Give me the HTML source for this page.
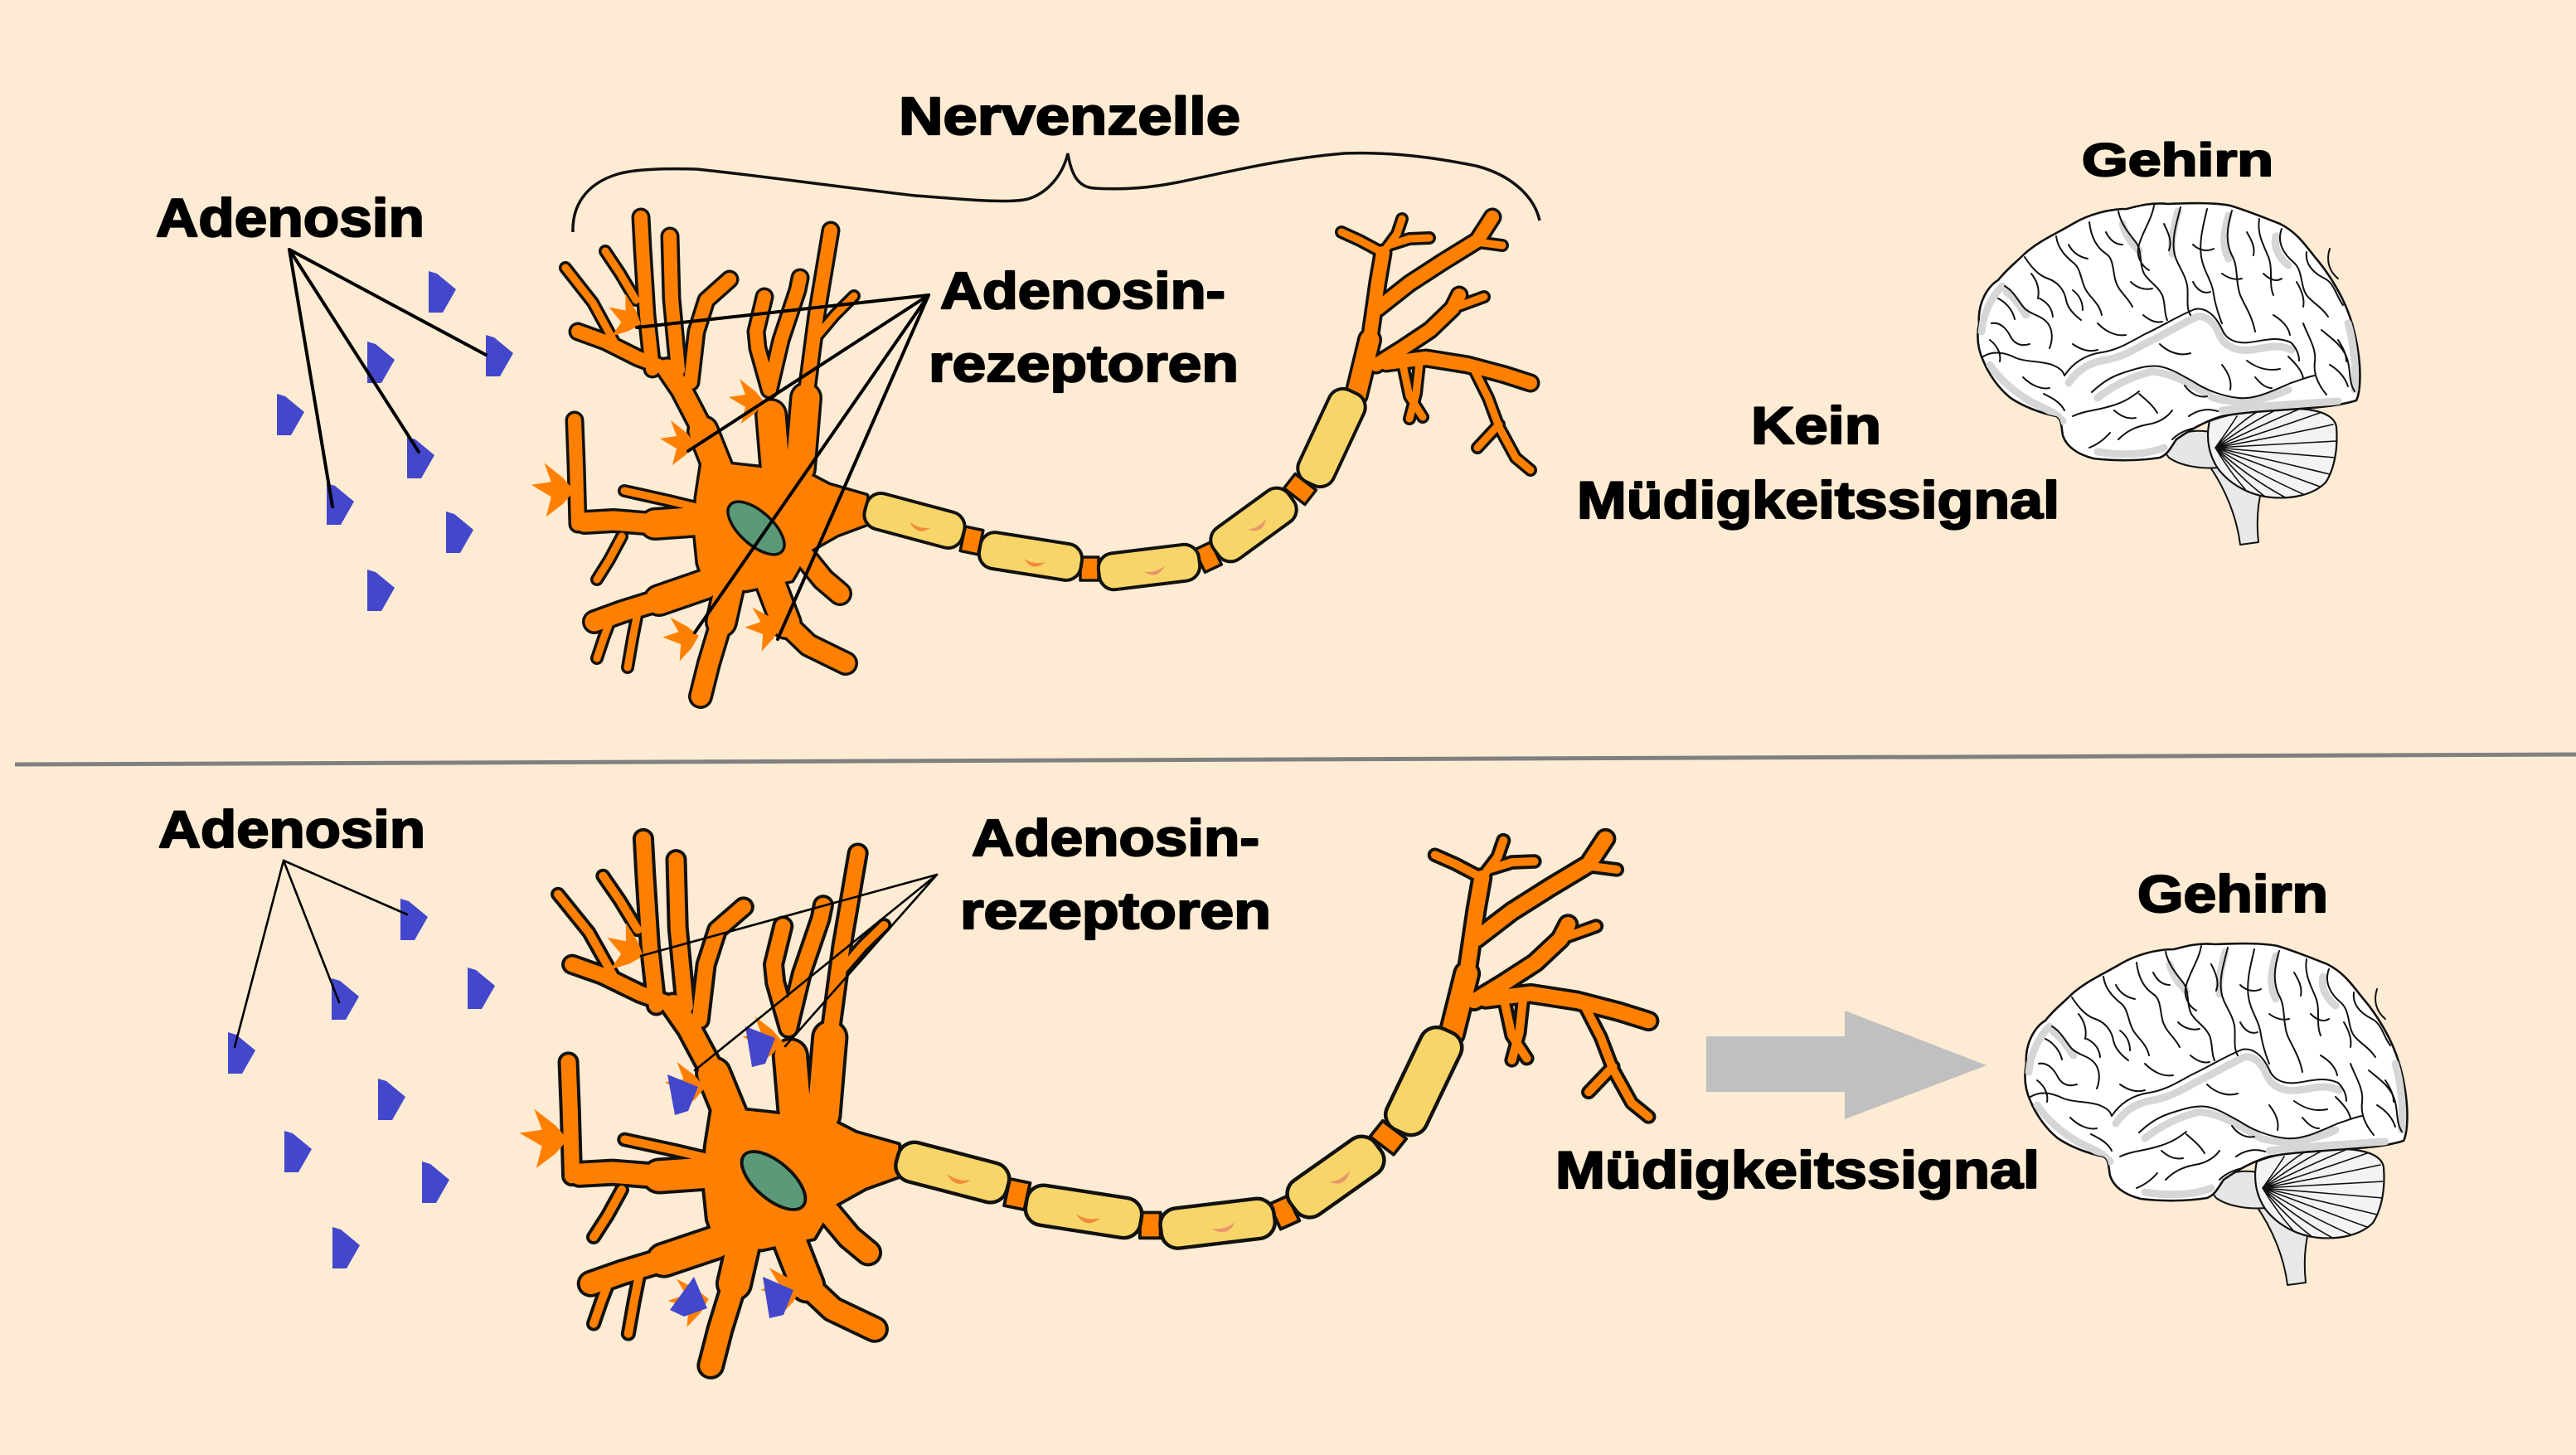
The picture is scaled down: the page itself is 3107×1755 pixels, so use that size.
<!DOCTYPE html>
<html><head><meta charset="utf-8">
<style>html,body{margin:0;padding:0;background:#FDEBD3;}svg{display:block}
text{font-family:"Liberation Sans",Arial,sans-serif;font-weight:700;fill:#000;stroke:#000;stroke-width:2.2;stroke-linejoin:round}</style>
</head><body>
<svg width="3107" height="1755" viewBox="0 0 3107 1755" xmlns="http://www.w3.org/2000/svg">
<defs>
 <path id="mol" d="M0,0 L10,3 L33,22 L17,50 L0,50 Z" fill="#4347CC"/>
 <path id="rs" d="M-26,-6 L-6,-9 L-13,-28 L6,-13 L17,0 L6,13 L-11,26 L-6,6 Z" fill="#FF8000"/>
 <path id="cres" d="M-13,0 Q0,15 13,0 Q0,6 -13,0 Z"/>
 <g id="neuron" stroke-linecap="round" stroke-linejoin="round" fill="none">
  <g stroke="#111">
   <path stroke-width="40" d="M870,575 L848,520 M847,628 L790,632 M935,560 L930,500 M965,565 L972,480 M880,705 L870,750 M930,705 L948,752 M850,705 L795,724"/>
   <path stroke-width="30" d="M848,520 L822,470 L805,445 M790,632 L740,628 L705,630 M870,750 L855,800 L845,840 M948,752 L975,778 L1020,800 M795,724 L750,738 L717,750 M967,667 L993,699 L1013,716 M1636,476 L1652,410"/>
   <path stroke-width="23" d="M805,445 L770,432 L730,412 L697,400 M787,445 L780,380 L775,300 L773,262 M818,446 L810,360 L808,285 M833,461 L840,400 L852,362 L880,337 M928,470 L942,410 L962,350 L965,335 M928,470 L914,420 L912,400 L922,358 M972,480 L985,380 L1002,278 M697,632 L695,560 L693,507 M1652,410 L1662,340 L1668,305 M1662,372 L1700,342 L1740,316 L1782,290 L1800,262 M1660,440 L1692,420 L1725,398 L1752,372 L1760,356 M1672,438 L1720,432 L1770,440 L1815,452 L1846,462"/>
   <path stroke-width="16" d="M745,420 L715,365 L682,323 M767,362 L748,330 L730,303 M980,412 L1007,380 L1030,357 M840,612 L807,604 L753,592 M750,647 L735,675 L720,699 M770,734 L763,770 L757,805 M737,746 L728,770 L720,794 M1668,305 L1640,290 L1618,280 M1668,305 L1685,282 L1691,264 M1678,295 L1700,288 L1724,287 M1782,292 L1812,296 M1752,372 L1790,358 M1776,442 L1795,480 L1808,515 L1828,552 L1846,567 M1808,512 L1782,540 M1692,440 L1700,478 L1716,503 M1712,438 L1708,475 L1700,505"/>
   <path fill="#111" stroke-width="7" d="M848,548 L880,560 L925,565 L962,565 L1000,585 L1045,598 L1045,632 L1010,645 L975,665 L955,700 L900,712 L852,710 L842,680 L838,640 L840,600 Z"/>
  </g>
  <g stroke="#FF8000">
   <path stroke-width="33" d="M870,575 L848,520 M847,628 L790,632 M935,560 L930,500 M965,565 L972,480 M880,705 L870,750 M930,705 L948,752 M850,705 L795,724"/>
   <path stroke-width="23" d="M848,520 L822,470 L805,445 M790,632 L740,628 L705,630 M870,750 L855,800 L845,840 M948,752 L975,778 L1020,800 M795,724 L750,738 L717,750 M967,667 L993,699 L1013,716 M1636,476 L1652,410"/>
   <path stroke-width="16" d="M805,445 L770,432 L730,412 L697,400 M787,445 L780,380 L775,300 L773,262 M818,446 L810,360 L808,285 M833,461 L840,400 L852,362 L880,337 M928,470 L942,410 L962,350 L965,335 M928,470 L914,420 L912,400 L922,358 M972,480 L985,380 L1002,278 M697,632 L695,560 L693,507 M1652,410 L1662,340 L1668,305 M1662,372 L1700,342 L1740,316 L1782,290 L1800,262 M1660,440 L1692,420 L1725,398 L1752,372 L1760,356 M1672,438 L1720,432 L1770,440 L1815,452 L1846,462"/>
   <path stroke-width="9" d="M745,420 L715,365 L682,323 M767,362 L748,330 L730,303 M980,412 L1007,380 L1030,357 M840,612 L807,604 L753,592 M750,647 L735,675 L720,699 M770,734 L763,770 L757,805 M737,746 L728,770 L720,794 M1668,305 L1640,290 L1618,280 M1668,305 L1685,282 L1691,264 M1678,295 L1700,288 L1724,287 M1782,292 L1812,296 M1752,372 L1790,358 M1776,442 L1795,480 L1808,515 L1828,552 L1846,567 M1808,512 L1782,540 M1692,440 L1700,478 L1716,503 M1712,438 L1708,475 L1700,505"/>
   <path fill="#FF8000" stroke="none" d="M848,548 L880,560 L925,565 L962,565 L1000,585 L1045,598 L1045,632 L1010,645 L975,665 L955,700 L900,712 L852,710 L842,680 L838,640 L840,600 Z"/>
  </g>
  <use href="#rs" transform="translate(757,385) rotate(20)"/>
  <use href="#rs" transform="translate(822,535)"/>
  <use href="#rs" transform="translate(905,485)"/>
  <use href="#rs" transform="translate(672,592) scale(1.2)"/>
  <use href="#rs" transform="translate(826,770) rotate(-10)"/>
  <use href="#rs" transform="translate(925,758) rotate(-10)"/>
  <ellipse cx="912" cy="637" rx="42" ry="20" transform="rotate(42 912 637)" fill="#5A9A78" stroke="#111" stroke-width="3.5"/>
  <g fill="#FF8000" stroke="#111" stroke-width="3.5">
   <rect x="-11" y="-15" width="22" height="30" transform="translate(1172,652) rotate(12)"/>
   <rect x="-11" y="-14" width="22" height="28" transform="translate(1314,686)"/>
   <rect x="-11" y="-15" width="22" height="30" transform="translate(1457,672) rotate(-25)"/>
   <rect x="-11" y="-16" width="22" height="32" transform="translate(1568,590) rotate(-52)"/>
  </g>
  <g fill="#F7D568" stroke="#111" stroke-width="4">
   <rect x="-61" y="-22" width="122" height="44" rx="18" transform="translate(1103,628) rotate(15)"/>
   <rect x="-62" y="-22" width="124" height="44" rx="18" transform="translate(1243,671) rotate(9)"/>
   <rect x="-61" y="-22" width="122" height="44" rx="18" transform="translate(1386,684) rotate(-7)"/>
   <rect x="-56" y="-23" width="112" height="46" rx="18" transform="translate(1512,633) rotate(-36)"/>
   <rect x="-61" y="-23" width="122" height="46" rx="18" transform="translate(1606,528) rotate(-65)"/>
  </g>
  <use href="#cres" fill="#F28A3A" transform="translate(1110,633) rotate(15)"/>
  <use href="#cres" fill="#F28A3A" transform="translate(1248,676) rotate(9)"/>
  <use href="#cres" fill="#E8966E" transform="translate(1392,686) rotate(-15)"/>
  <use href="#cres" fill="#E8966E" transform="translate(1516,632) rotate(-30)"/>
 </g>

 <clipPath id="cc"><path d="M7,150 C5,125 18,105 30,98 C40,85 50,78 62,66 C80,50 100,42 120,30 C140,18 165,12 185,12 C200,8 215,4 235,6 C260,5 290,4 310,8 C330,14 350,22 370,30 C390,40 400,55 412,70 C425,85 435,100 445,120 C455,140 462,165 465,190 C468,215 466,235 462,243 C440,250 410,252 380,254 C350,256 320,258 300,262 C280,268 262,278 245,290 C238,300 235,308 225,312 C200,316 170,316 145,313 C125,308 112,298 108,285 C106,275 107,265 100,262 C80,258 60,250 45,240 C30,228 18,210 12,195 C5,180 4,165 7,150 Z"/></clipPath>
 <clipPath id="cb"><path d="M285,268 C310,258 350,252 390,253 C420,254 436,262 438,275 C440,300 436,325 425,342 C410,357 385,362 360,360 C335,358 310,345 295,325 C285,310 280,290 285,268 Z"/></clipPath>
 <g id="brain" stroke-linecap="round" stroke-linejoin="round">
  <path d="M282,318 L300,320 C318,335 340,345 348,350 C342,372 342,395 344,414 L322,417 C318,385 305,350 282,318 Z" fill="#e8e8e8" stroke="#111" stroke-width="2"/>
  <path d="M230,292 C248,280 275,276 296,284 C304,298 304,314 296,324 C275,326 250,322 236,312 C230,305 228,298 230,292 Z" fill="#e6e6e6" stroke="#111" stroke-width="2"/>
  <path d="M285,268 C310,258 350,252 390,253 C420,254 436,262 438,275 C440,300 436,325 425,342 C410,357 385,362 360,360 C335,358 310,345 295,325 C285,310 280,290 285,268 Z" fill="#f3f3f3" stroke="#111" stroke-width="2.2"/>
  <g clip-path="url(#cb)" fill="none" stroke="#111" stroke-width="1.6">
   <path d="M292,300 Q310,275 318,262 M292,300 Q320,270 342,257 M292,300 Q330,272 366,254 M292,300 Q340,276 392,254 M292,300 Q350,282 418,258 M292,300 Q360,288 434,272 M292,300 Q365,296 438,292 M292,300 Q365,306 437,312 M292,300 Q360,315 430,332 M292,300 Q350,322 418,347 M292,300 Q340,330 400,357 M292,300 Q330,335 378,361 M292,300 Q320,335 352,359 M292,300 Q310,330 328,350"/>
  </g>
  <path d="M7,150 C5,125 18,105 30,98 C40,85 50,78 62,66 C80,50 100,42 120,30 C140,18 165,12 185,12 C200,8 215,4 235,6 C260,5 290,4 310,8 C330,14 350,22 370,30 C390,40 400,55 412,70 C425,85 435,100 445,120 C455,140 462,165 465,190 C468,215 466,235 462,243 C440,250 410,252 380,254 C350,256 320,258 300,262 C280,268 262,278 245,290 C238,300 235,308 225,312 C200,316 170,316 145,313 C125,308 112,298 108,285 C106,275 107,265 100,262 C80,258 60,250 45,240 C30,228 18,210 12,195 C5,180 4,165 7,150 Z" fill="#fff" stroke="#111" stroke-width="2.6"/>
  <g clip-path="url(#cc)" fill="none" stroke="#d6d6d6" stroke-width="9">
   <path d="M115,222 C125,207 140,197 160,194 C180,191 195,181 212,172 C230,164 250,151 270,142 C282,140 292,150 298,166 C304,178 318,184 335,182 C352,180 367,174 384,182"/>
   <path d="M20,200 C30,215 45,230 70,245 C85,252 100,258 108,268"/>
   <path d="M300,255 C340,250 380,248 440,244"/>
   <path d="M10,160 C12,140 20,120 35,105"/>
   <path d="M150,305 C180,310 210,308 230,300"/>
   <path d="M247,15 C242,35 238,50 240,66"/>
   <path d="M308,20 C302,40 300,56 308,72"/>
   <path d="M150,240 C165,228 185,216 215,208 C240,210 260,222 290,240 C310,246 340,248 380,230"/>
   <path d="M40,112 C52,120 57,132 64,140"/>
   <path d="M452,150 C458,170 462,200 460,230"/>
   <path d="M180,30 C184,45 192,55 200,62"/>
   <path d="M365,45 C362,60 370,72 380,80"/>
  </g>
  <g fill="none" stroke="#111" stroke-width="2">
   <path d="M110,213 C120,198 135,188 155,185 C175,182 190,172 207,163 C225,155 245,142 267,133 C280,130 292,140 300,157 C304,168 315,175 333,173 C350,171 365,165 383,173 C390,180 393,188 393,195"/>
   <path d="M143,233 C155,222 165,215 180,210 C195,205 210,200 225,202 C240,205 250,212 265,220 C280,230 300,238 320,240 C340,242 360,232 383,222 C395,218 405,214 412,213"/>
   <path d="M120,262 C135,255 150,255 165,250 C180,246 190,240 200,232"/>
   <path d="M175,290 C185,280 195,275 210,272 C225,270 235,262 240,255"/>
   <path d="M260,262 C270,255 282,252 295,256"/>
   <path d="M12,190 C25,182 40,186 52,192 C65,197 80,195 95,200 C102,203 108,206 110,213"/>
   <path d="M22,150 C32,148 40,156 45,166 C50,175 58,178 68,175"/>
   <path d="M38,105 C50,112 55,125 62,132 C70,140 82,140 90,150 C96,158 96,170 92,180"/>
   <path d="M62,70 C70,82 78,92 90,96 C102,100 110,110 112,122 C114,132 122,140 130,146"/>
   <path d="M100,45 C102,60 112,70 122,78 C130,85 130,100 136,110 C142,120 152,126 155,140"/>
   <path d="M140,28 C142,45 148,58 160,66 C170,72 168,88 172,100 C176,112 186,118 192,130"/>
   <path d="M175,15 C178,30 188,42 196,52 C204,62 200,78 206,90 C212,100 222,104 228,116 C232,126 230,138 234,146"/>
   <path d="M218,8 C215,25 205,38 200,55 C196,68 202,80 212,86"/>
   <path d="M250,10 C245,30 240,45 242,62 C244,78 255,88 258,104 C260,118 256,130 262,140"/>
   <path d="M282,12 C278,30 272,50 275,70 C278,88 288,98 290,115 C292,128 296,140 300,150"/>
   <path d="M312,14 C306,34 304,52 312,68 C320,82 316,100 322,116 C328,130 336,140 340,160"/>
   <path d="M345,24 C342,42 350,55 356,70 C362,85 356,102 362,116"/>
   <path d="M372,36 C366,52 374,66 386,76 C398,86 394,104 402,116 C410,126 420,130 428,142"/>
   <path d="M402,64 C400,80 412,90 424,96 C436,102 438,118 446,128"/>
   <path d="M420,158 C432,168 444,176 450,190 C456,204 452,220 460,232"/>
   <path d="M398,150 C404,166 414,180 412,196 C410,210 416,224 426,236"/>
   <path d="M430,200 C440,206 448,214 452,226"/>
   <path d="M150,150 C160,160 172,166 184,164"/>
   <path d="M225,175 C235,185 250,190 262,186"/>
   <path d="M330,195 C342,204 356,208 370,205"/>
   <path d="M200,235 C208,242 216,248 222,258"/>
   <path d="M255,225 C262,235 272,240 282,238"/>
   <path d="M340,215 C346,222 352,228 360,228"/>
   <path d="M60,215 C70,225 82,230 92,228"/>
   <path d="M80,120 C90,125 95,132 96,142"/>
   <path d="M190,100 C198,108 208,110 216,108"/>
   <path d="M300,90 C308,96 316,98 324,96"/>
   <path d="M362,140 C372,146 380,154 382,164"/>
   <path d="M140,300 C150,296 158,290 165,282"/>
   <path d="M240,290 C248,282 258,278 268,276"/>
   <path d="M430,60 C425,75 430,88 440,96"/>
   <path d="M120,175 C130,182 140,185 150,182"/>
   <path d="M265,55 C272,62 282,64 290,60"/>
   <path d="M330,40 C336,50 340,58 338,68"/>
   <path d="M30,120 C40,125 48,135 50,145"/>
   <path d="M70,90 C78,100 80,110 78,120"/>
   <path d="M115,55 C120,65 128,70 138,72"/>
   <path d="M160,40 C165,50 172,55 180,55"/>
   <path d="M230,30 C236,42 240,52 236,62"/>
   <path d="M265,100 C270,110 278,115 286,112"/>
   <path d="M350,90 C358,98 366,100 372,96"/>
   <path d="M390,100 C396,110 400,120 398,130"/>
   <path d="M440,170 C445,178 450,186 450,196"/>
   <path d="M20,170 C28,176 34,186 32,196"/>
   <path d="M85,235 C95,240 105,245 110,255"/>
   <path d="M170,255 C178,262 186,266 196,264"/>
   <path d="M300,200 C308,210 312,220 310,230"/>
   <path d="M380,190 C388,198 396,206 398,216"/>
   <path d="M120,110 C128,116 132,124 132,134"/>
   <path d="M205,140 C212,146 220,150 228,148"/>
  </g>
 </g>
</defs>

<rect width="3107" height="1755" fill="#FDEBD3"/>

<line x1="18" y1="922" x2="3107" y2="910" stroke="#808080" stroke-width="5"/>

<!-- TOP PANEL -->
<path d="M691,280 C690,250 705,222 745,210 C765,204 800,203 840,204 C900,210 1000,224 1104,236 C1160,240 1215,246 1240,240 C1265,232 1282,210 1288,185 C1292,210 1300,226 1320,227 C1350,229 1385,227 1420,220 C1480,208 1540,192 1621,185 C1680,183 1730,190 1780,200 C1820,210 1850,235 1857,266" fill="none" stroke="#111" stroke-width="3.5"/>

<use href="#neuron"/>

<g>
 <use href="#mol" x="517" y="327"/>
 <use href="#mol" x="586" y="404"/>
 <use href="#mol" x="443" y="412"/>
 <use href="#mol" x="334" y="475"/>
 <use href="#mol" x="491" y="527"/>
 <use href="#mol" x="394" y="583"/>
 <use href="#mol" x="538" y="617"/>
 <use href="#mol" x="443" y="687"/>
</g>

<g stroke="#000" stroke-width="4" stroke-linecap="round">
 <line x1="349" y1="301" x2="586" y2="428"/>
 <line x1="349" y1="301" x2="505" y2="545"/>
 <line x1="349" y1="301" x2="401" y2="611"/>
 <line x1="1120" y1="356" x2="768" y2="395"/>
 <line x1="1120" y1="356" x2="830" y2="544"/>
 <line x1="1120" y1="356" x2="838" y2="763"/>
 <line x1="1120" y1="356" x2="938" y2="771"/>
</g>

<use href="#brain" transform="translate(2380,240)"/>

<text x="1084" y="162" font-size="64" textLength="412" lengthAdjust="spacingAndGlyphs">Nervenzelle</text>
<text x="188" y="285" font-size="65" textLength="324" lengthAdjust="spacingAndGlyphs">Adenosin</text>
<text x="1134" y="372" font-size="62" textLength="344" lengthAdjust="spacingAndGlyphs">Adenosin-</text>
<text x="1120" y="460" font-size="62" textLength="374" lengthAdjust="spacingAndGlyphs">rezeptoren</text>
<text x="2511" y="212" font-size="56" textLength="231" lengthAdjust="spacingAndGlyphs">Gehirn</text>
<text x="2112" y="535" font-size="63" textLength="157" lengthAdjust="spacingAndGlyphs">Kein</text>
<text x="1902" y="625" font-size="63" textLength="582" lengthAdjust="spacingAndGlyphs">Müdigkeitssignal</text>

<!-- BOTTOM PANEL -->
<use href="#neuron" transform="translate(933,1424) scale(1.13,1.10) translate(-912,-637)"/>

<g fill="#4347CC">
 <polygon points="899,1238 935,1252 923,1283 907,1287"/>
 <polygon points="805,1296 842,1311 830,1340 814,1345"/>
 <polygon points="837,1540 853,1578 825,1588 808,1580"/>
 <polygon points="920,1540 957,1556 945,1586 928,1590"/>
</g>
<g>
 <use href="#mol" x="483" y="1084"/>
 <use href="#mol" x="564" y="1167"/>
 <use href="#mol" x="400" y="1180"/>
 <use href="#mol" x="275" y="1245"/>
 <use href="#mol" x="456" y="1301"/>
 <use href="#mol" x="343" y="1364"/>
 <use href="#mol" x="509" y="1401"/>
 <use href="#mol" x="401" y="1480"/>
</g>

<g stroke="#000" stroke-width="2.6" stroke-linecap="round">
 <line x1="342" y1="1038" x2="491" y2="1103"/>
 <line x1="342" y1="1038" x2="409" y2="1209"/>
 <line x1="342" y1="1038" x2="283" y2="1263"/>
 <line x1="1130" y1="1055" x2="773" y2="1153"/>
 <line x1="1130" y1="1055" x2="838" y2="1291"/>
 <line x1="1130" y1="1055" x2="947" y2="1262"/>
</g>

<polygon points="2058,1250 2225,1250 2225,1219 2396,1285 2225,1350 2225,1317 2058,1317" fill="#C0C0C0"/>

<use href="#brain" transform="translate(2437,1133)"/>

<text x="191" y="1022" font-size="63" textLength="322" lengthAdjust="spacingAndGlyphs">Adenosin</text>
<text x="1172" y="1032" font-size="62" textLength="347" lengthAdjust="spacingAndGlyphs">Adenosin-</text>
<text x="1158" y="1120" font-size="62" textLength="375" lengthAdjust="spacingAndGlyphs">rezeptoren</text>
<text x="2578" y="1100" font-size="63" textLength="230" lengthAdjust="spacingAndGlyphs">Gehirn</text>
<text x="1876" y="1433" font-size="63" textLength="584" lengthAdjust="spacingAndGlyphs">Müdigkeitssignal</text>
</svg>
</body></html>
